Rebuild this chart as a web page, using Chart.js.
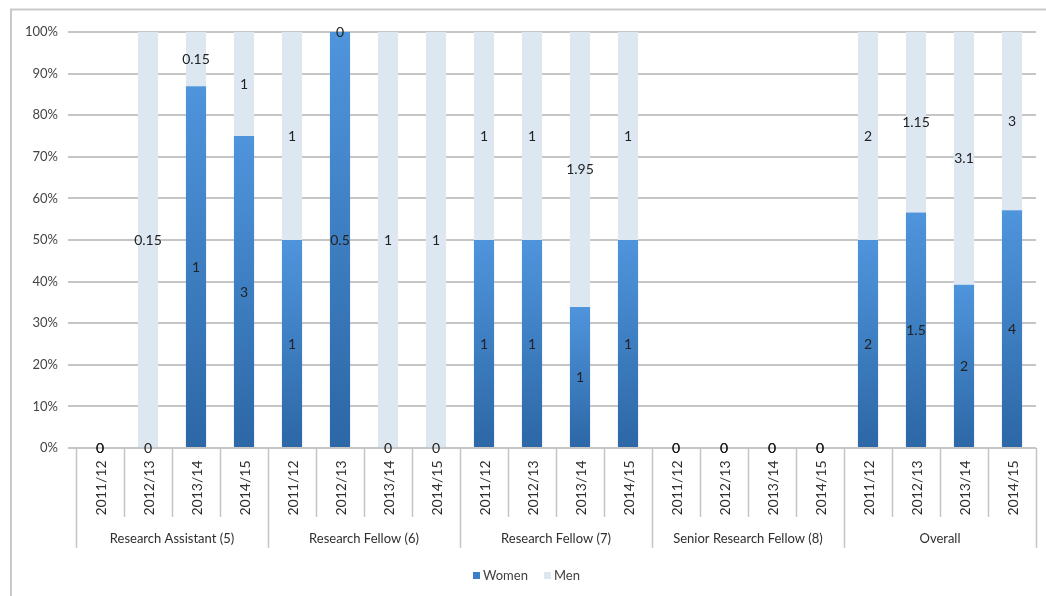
<!DOCTYPE html>
<html>
<head>
<meta charset="utf-8">
<script src="https://cdn.jsdelivr.net/npm/chart.js@4.4.1/dist/chart.umd.min.js"></script>
<style>
  html, body { margin: 0; padding: 0; background: #fff; }
  #wrap { width: 1046px; height: 596px; position: relative; }
</style>
</head>
<body>
<div id="wrap"><canvas id="c"></canvas></div>
<script>
// Staff grades (outer axis level) and academic years (inner level)
const groups = ['Research Assistant (5)', 'Research Fellow (6)', 'Research Fellow (7)', 'Senior Research Fellow (8)', 'Overall'];
const years = ['2011/12', '2012/13', '2013/14', '2014/15'];

// Headcounts (FTE) per grade and year, in the order of groups x years
const women = [0, 0, 1, 3,   1, 0.5, 0, 0,   1, 1, 1, 1,      0, 0, 0, 0,   2, 1.5, 2, 4];
const men   = [0, 0.15, 0.15, 1,   1, 0, 1, 1,   1, 1, 1.95, 1,   0, 0, 0, 0,   2, 1.15, 3.1, 3];

const seriesNames = ['Women', 'Men'];
const yTickStep = 10;

// 100% stacked shares derived from the counts
const totals = women.map((w, i) => w + men[i]);
const womenShare = women.map((w, i) => totals[i] ? w / totals[i] * 100 : 0);
const menShare = men.map((m, i) => totals[i] ? m / totals[i] * 100 : 0);

const labels = groups.flatMap(g => years.map(y => y));

const FONT = 'Lato, "Open Sans", sans-serif';
const WOMEN_TOP = '#4f95dc';
const WOMEN_BOTTOM = '#2c67a6';
const MEN_COLOR = '#dde7f2';

function womenFill(ctx) {
  const chart = ctx.chart;
  const ys = chart.scales && chart.scales.y;
  if (!ys || ctx.type !== 'data') return WOMEN_TOP;
  const top = ys.getPixelForValue(womenShare[ctx.dataIndex]);
  const bottom = ys.getPixelForValue(0);
  if (!isFinite(top) || !isFinite(bottom) || bottom - top < 1) return WOMEN_TOP;
  const g = chart.ctx.createLinearGradient(0, top, 0, bottom);
  g.addColorStop(0, WOMEN_TOP);
  g.addColorStop(1, WOMEN_BOTTOM);
  return g;
}

// Outer frame around the chart
const framePlugin = {
  id: 'frame',
  beforeDraw(chart) {
    const c = chart.ctx;
    c.save();
    c.strokeStyle = '#c9c9c9';
    c.lineWidth = 2;
    c.strokeRect(11, 9.5, 1100, 700);
    c.restore();
  }
};

// Count labels centred on each stacked segment
const valueLabels = {
  id: 'valueLabels',
  afterDatasetsDraw(chart) {
    const c = chart.ctx;
    const xs = chart.scales.x, ys = chart.scales.y;
    c.save();
    c.font = '14px ' + FONT;
    c.fillStyle = '#222';
    c.textAlign = 'center';
    c.textBaseline = 'middle';
    women.forEach((w, i) => {
      const x = xs.getPixelForValue(i);
      const ws = womenShare[i], ms = menShare[i];
      c.fillText(String(w), x, ys.getPixelForValue(ws / 2));
      c.fillText(String(men[i]), x, ys.getPixelForValue(ws + ms / 2));
    });
    c.restore();
  }
};

// Two-level category axis and legend
const categoryAxis = {
  id: 'categoryAxis',
  afterDraw(chart) {
    const c = chart.ctx;
    const area = chart.chartArea;
    const n = labels.length;
    const w = (area.right - area.left) / n;
    const base = area.bottom;
    c.save();
    c.strokeStyle = '#c4c4c4';
    c.lineWidth = 1.5;
    for (let i = 0; i <= n; i++) {
      const x = Math.round(area.left + i * w) + 0.5;
      const end = (i % years.length === 0) ? base + 100 : base + 69;
      c.beginPath();
      c.moveTo(x, base);
      c.lineTo(x, end);
      c.stroke();
    }
    c.fillStyle = '#2e2e2e';
    c.font = '14px ' + FONT;
    c.textAlign = 'center';
    c.textBaseline = 'middle';
    labels.forEach((lab, i) => {
      const cx = area.left + (i + 0.5) * w;
      c.save();
      c.translate(cx, base + 40);
      c.rotate(-Math.PI / 2);
      c.fillText(lab, 0, 1);
      c.restore();
    });
    c.font = '13px ' + FONT;
    groups.forEach((g, gi) => {
      const cx = area.left + (gi * years.length + years.length / 2) * w;
      c.fillText(g, cx, base + 91);
    });

    // legend
    const items = [
      { text: seriesNames[0], color: '#3c7fc6' },
      { text: seriesNames[1], color: MEN_COLOR }
    ];
    c.font = '13px ' + FONT;
    c.textAlign = 'left';
    const ly = 576;
    let lx = 473;
    items.forEach(it => {
      c.fillStyle = it.color;
      c.fillRect(lx, ly - 4, 7, 7);
      c.fillStyle = '#404040';
      c.fillText(it.text, lx + 10, ly);
      lx += 10 + c.measureText(it.text).width + 16;
    });
    c.restore();
  }
};

new Chart(document.getElementById('c'), {
  type: 'bar',
  data: {
    labels: labels,
    datasets: [
      { label: seriesNames[0], data: womenShare, backgroundColor: womenFill, borderWidth: 0 },
      { label: seriesNames[1], data: menShare, backgroundColor: MEN_COLOR, borderWidth: 0 }
    ]
  },
  options: {
    responsive: true,
    maintainAspectRatio: false,
    animation: false,
    devicePixelRatio: 1,
    layout: { padding: { top: 32, right: 10, left: 0, bottom: 0 } },
    datasets: { bar: { categoryPercentage: 1, barPercentage: 0.42 } },
    plugins: { legend: { display: false }, tooltip: { enabled: false } },
    scales: {
      x: {
        stacked: true,
        grid: { display: false },
        border: { display: false },
        ticks: { display: false },
        afterFit(scale) { scale.height = 148; }
      },
      y: {
        stacked: true,
        min: 0,
        max: 100,
        border: { display: false },
        grid: { color: '#c6c6c6', lineWidth: 2, tickLength: 8 },
        ticks: {
          stepSize: yTickStep,
          padding: 10,
          color: '#444',
          font: { family: FONT, size: 13 },
          callback: v => v + '%'
        },
        afterFit(scale) { scale.width = 76; }
      }
    }
  },
  plugins: [framePlugin, valueLabels, categoryAxis]
});
</script>
</body>
</html>
